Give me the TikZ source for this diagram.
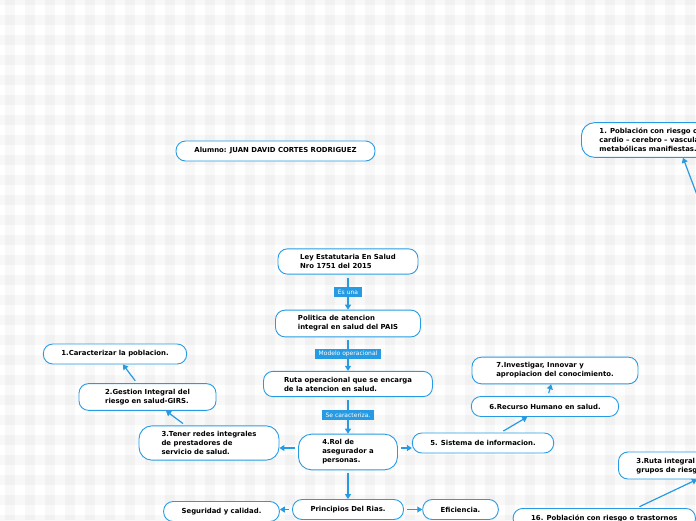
\documentclass[tikz,border=0pt]{standalone}
\usepackage{fontspec}
\setmainfont{DejaVu Sans}
\usetikzlibrary{arrows.meta,calc}
\definecolor{mapblue}{RGB}{38,155,227}

\begin{document}
\begin{tikzpicture}[x=1pt,y=-1pt,
    topic/.style={draw=mapblue,line width=0.9pt,fill=white,rounded corners=9.5pt,
        align=left,inner xsep=18pt,inner ysep=5.5pt,minimum height=20pt,
        font=\fontsize{6.9}{9}\selectfont\bfseries},
    tall/.style={rounded corners=13pt},
    tag/.style={fill=mapblue,text=white,inner xsep=3.5pt,inner ysep=1pt,
        minimum height=10pt,font=\fontsize{6}{7}\selectfont},
    conn/.style={draw=mapblue,line width=1.2pt,shorten <=3pt,
        -{Triangle[length=5pt,width=6pt]}}
]
\useasboundingbox (0,0) rectangle (696,520);
\clip (0,0) rectangle (696,520);

% Background
\fill[white] (0,0) rectangle (696,520);
\foreach \i in {0,...,34} {
  \fill[black,opacity=0.028] (\i*20+5,0) rectangle ++(10,520);
}
\foreach \j in {0,...,26} {
  \fill[black,opacity=0.028] (0,\j*20-5) rectangle ++(696,10);
}

% Student
\node[topic,minimum width=199pt,align=center] (alumno) at (275.5,151)
  {Alumno: JUAN DAVID CORTES RODRIGUEZ};

% Main chain
\node[topic,minimum width=140pt] (ley) at (348,261.5) {Ley Estatutaria En Salud\\Nro 1751 del 2015};
\node[topic,minimum width=145pt] (politica) at (348,323.5) {Politica de atencion\\integral en salud del PAIS};
\node[topic,minimum width=169pt] (ruta) at (348,384) {Ruta operacional que se encarga\\de la atencion en salud.};
\node[topic,tall,minimum width=99pt] (rol) at (348,452) {4.Rol de\\asegurador a\\personas.};
\node[topic,minimum width=107pt] (principios) at (348,509.5) {Principios Del Rias.};

\draw[conn] (ley) -- node[tag]{Es una} (politica);
\draw[conn] (politica) -- node[tag]{Modelo operacional} (ruta);
\draw[conn] (ruta) -- node[tag]{Se caracteriza.} (rol);
\draw[conn] (rol) -- (principios);

% Left branch
\node[topic,tall,minimum width=140pt] (redes) at (209,443) {3.Tener redes integrales\\de prestadores de\\servicio de salud.};
\node[topic,minimum width=137pt] (gestion) at (147.5,397) {2.Gestion Integral del\\riesgo en salud-GIRS.};
\node[topic,minimum width=140pt] (caract) at (115,354) {1.Caracterizar la poblacion.};

\draw[conn] ([yshift=4pt]rol.west) coordinate (r4) -- (r4 -| redes.east);
\draw[conn] (redes) -- (gestion);
\draw[conn] (gestion) -- (caract);

% Right branch
\node[topic,minimum width=137pt] (sistema) at (483,443) {5. Sistema de informacion.};
\node[topic,minimum width=144pt] (recurso) at (545,406.5) {6.Recurso Humano en salud.};
\node[topic,minimum width=166pt] (investigar) at (555,370.5) {7.Investigar, Innovar y\\apropiacion del conocimiento.};

\draw[conn] ([yshift=4pt]rol.east) coordinate (r5) -- (r5 -| sistema.west);
\draw[conn] (sistema) -- (recurso);
\draw[conn] (recurso) -- (investigar);

% Principles
\node[topic,minimum width=113pt] (seguridad) at (221.5,511.5) {Seguridad y calidad.};
\node[topic,minimum width=73pt] (eficiencia) at (460.5,509.5) {Eficiencia.};

\draw[conn] (principios.west) -- (principios.west -| seguridad.east);
\draw[conn] (principios.east) -- (principios.east -| eficiencia.west);

% Cut-off topics at the right
\node[topic,tall,anchor=west] (pob1) at (581,140) {1. Población con riesgo o alteraciones\\cardio – cerebro – vascular –\\metabólicas manifiestas.};
\node[topic,anchor=west] (ruta3) at (618,465.5) {3.Ruta integral de atención\\grupos de riesgo};
\node[topic,anchor=north west] (pob16) at (512.7,508) {16. Población con riesgo o trastornos};

\coordinate (src1) at (714,240);
\draw[conn] (src1) -- ([xshift=102pt]pob1.south west);
\draw[conn] ([xshift=124pt]pob16.north west) -- ([xshift=79pt]ruta3.south west);
\end{tikzpicture}
\end{document}
